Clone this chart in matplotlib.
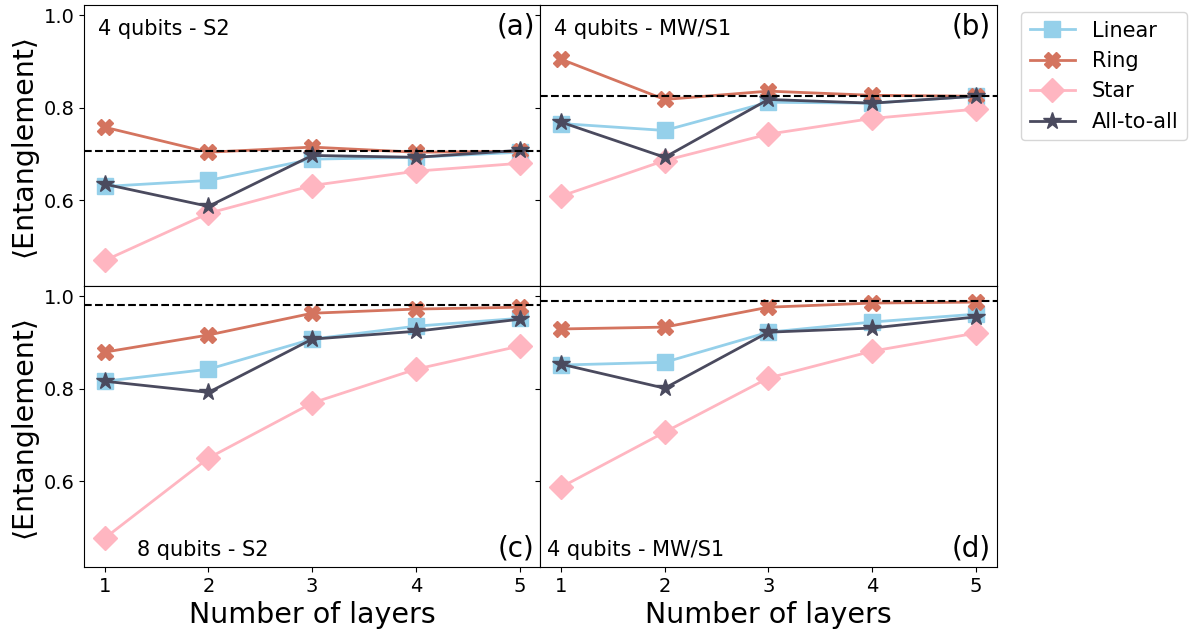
import numpy as np
import matplotlib.pyplot as plt

layers = [1, 2, 3, 4, 5]
names = ['Linear', 'Ring', 'Star', 'All-to-all']

# (a) 4 qubits - S2
a_linear = [0.630, 0.643, 0.689, 0.693, 0.704]
a_ring = [0.758, 0.704, 0.715, 0.704, 0.706]
a_star = [0.470, 0.572, 0.632, 0.663, 0.680]
a_all = [0.635, 0.587, 0.697, 0.693, 0.708]
a_ref = 0.706

# (b) 4 qubits - MW/S1
b_linear = [0.766, 0.751, 0.812, 0.810, 0.825]
b_ring = [0.905, 0.818, 0.836, 0.827, 0.825]
b_star = [0.609, 0.686, 0.743, 0.777, 0.797]
b_all = [0.769, 0.693, 0.818, 0.810, 0.825]
b_ref = 0.825

# (c) 8 qubits - S2
c_linear = [0.816, 0.842, 0.907, 0.935, 0.952]
c_ring = [0.879, 0.916, 0.963, 0.972, 0.976]
c_star = [0.477, 0.650, 0.769, 0.842, 0.892]
c_all = [0.816, 0.792, 0.907, 0.924, 0.950]
c_ref = 0.980

# (d) 4 qubits - MW/S1
d_linear = [0.851, 0.857, 0.922, 0.944, 0.961]
d_ring = [0.929, 0.933, 0.976, 0.985, 0.987]
d_star = [0.587, 0.706, 0.823, 0.881, 0.920]
d_all = [0.853, 0.801, 0.922, 0.931, 0.955]
d_ref = 0.989

colors = ['#95d0ea', '#d4745f', '#ffb6c1', '#4a4a5e']
markers = ['s', 'X', 'D', '*']
msizes = [12, 12, 12, 13]

panels = [
    ([a_linear, a_ring, a_star, a_all], a_ref, '4 qubits - S2', '(a)', 'top'),
    ([b_linear, b_ring, b_star, b_all], b_ref, '4 qubits - MW/S1', '(b)', 'top'),
    ([c_linear, c_ring, c_star, c_all], c_ref, '8 qubits - S2', '(c)', 'bottom'),
    ([d_linear, d_ring, d_star, d_all], d_ref, '4 qubits - MW/S1', '(d)', 'bottom'),
]

fig, axs = plt.subplots(2, 2, figsize=(11.92, 6.34), dpi=100, sharex=True, sharey=True)
fig.subplots_adjust(left=0.0705, right=0.836, top=0.992, bottom=0.106, wspace=0, hspace=0)

for k, ax in enumerate(axs.flat):
    series, ref, label, tag, pos = panels[k]
    for s, c, m, ms, n in zip(series, colors, markers, msizes, names):
        ax.plot(layers, s, color=c, marker=m, markersize=ms, lw=2, label=n)
    ax.axhline(ref, color='k', ls='--', lw=1.5)
    if pos == 'top':
        ax.text(0.03, 0.95, label, transform=ax.transAxes, fontsize=15, va='top', ha='left')
        ax.text(0.988, 0.975, tag, transform=ax.transAxes, fontsize=20, va='top', ha='right')
    else:
        xo = 0.115 if k == 2 else 0.015
        ax.text(xo, 0.025, label, transform=ax.transAxes, fontsize=15, va='bottom', ha='left')
        ax.text(0.988, 0.015, tag, transform=ax.transAxes, fontsize=20, va='bottom', ha='right')
    ax.tick_params(labelsize=14)

axs[0, 0].set_ylim(0.415, 1.022)
axs[0, 0].set_xlim(0.8, 5.2)
axs[0, 0].set_yticks([0.6, 0.8, 1.0])
axs[0, 0].set_xticks(layers)
for ax in axs[:, 0]:
    ax.set_ylabel('⟨Entanglement⟩', fontsize=20.5)
for ax in axs[1, :]:
    ax.set_xlabel('Number of layers', fontsize=20.5)

axs[0, 0].legend(loc='upper left', bbox_to_anchor=(0.848, 0.997), bbox_transform=fig.transFigure,
                 fontsize=15, handlelength=2.2)

fig.savefig('out.png')
